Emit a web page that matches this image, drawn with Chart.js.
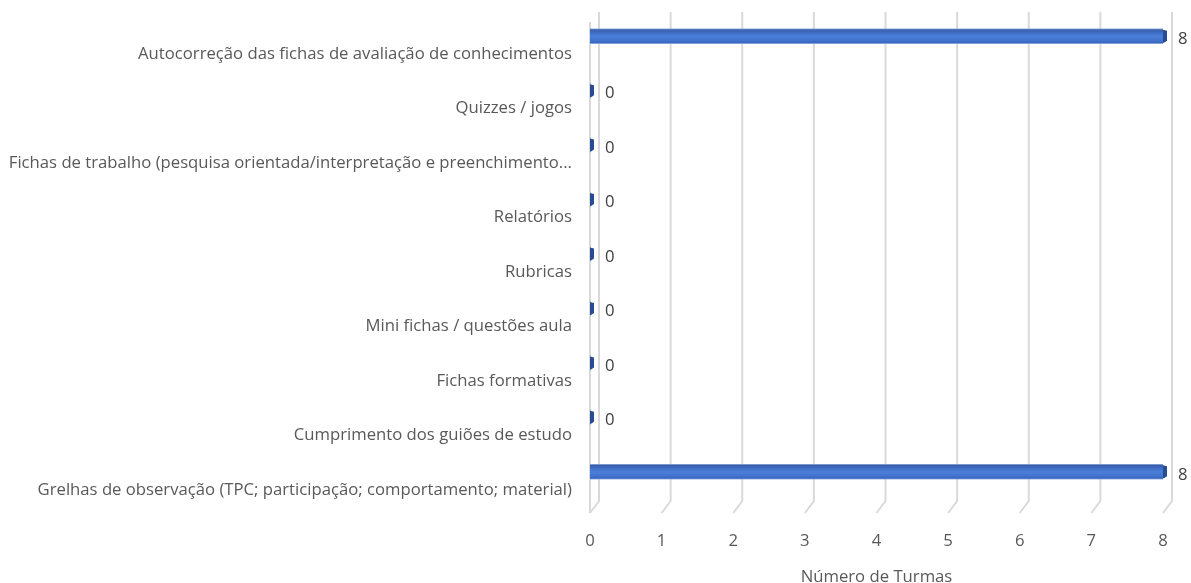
<!DOCTYPE html>
<html>
<head>
<meta charset="utf-8">
<script src="https://cdn.jsdelivr.net/npm/chart.js@4/dist/chart.umd.min.js"></script>
<style>
html,body{margin:0;padding:0;background:#fff;}
#wrap{width:1191px;height:583px;position:relative;}
</style>
</head>
<body>
<div id="wrap"><canvas id="c" width="1191" height="583"></canvas></div>
<script>
const categories = [
  "Autocorreção das fichas de avaliação de conhecimentos",
  "Quizzes / jogos",
  "Fichas de trabalho (pesquisa orientada/interpretação e preenchimento...",
  "Relatórios",
  "Rubricas",
  "Mini fichas / questões aula",
  "Fichas formativas",
  "Cumprimento dos guiões de estudo",
  "Grelhas de observação (TPC; participação; comportamento; material)"
];
const turmas = [8, 0, 0, 0, 0, 0, 0, 0, 8];
const xTicks = [0, 1, 2, 3, 4, 5, 6, 7, 8];
const axisTitle = "Número de Turmas";

const FONT = "'Open Sans', 'Noto Sans', sans-serif";
const FS = 16.7;
const TEXT = "#595959";
const BAR_H = 15;

function barGradient(c) {
  const chart = c.chart;
  const ys = chart.scales && chart.scales.y;
  if (!ys || c.dataIndex === undefined) return "#4472c4";
  const y = ys.getPixelForValue(c.dataIndex);
  if (!isFinite(y)) return "#4472c4";
  const g = chart.ctx.createLinearGradient(0, y - BAR_H / 2, 0, y + BAR_H / 2);
  g.addColorStop(0, "#8aa5dc");
  g.addColorStop(0.08, "#3a5fa6");
  g.addColorStop(0.2, "#3c68bd");
  g.addColorStop(0.5, "#4b7fd9");
  g.addColorStop(0.8, "#4272cb");
  g.addColorStop(0.93, "#3766be");
  g.addColorStop(1, "#9ab2e0");
  return g;
}

const floorPlugin = {
  id: "floor",
  beforeDatasetsDraw(chart) {
    const {ctx, chartArea, scales} = chart;
    const xs = scales.x;
    const dx = 9, dy = 12;
    ctx.save();
    ctx.strokeStyle = "#d9d9d9";
    ctx.lineWidth = 2;
    xTicks.forEach(v => {
      const xf = xs.getPixelForValue(v);
      const xb = xf + dx;
      ctx.beginPath();
      ctx.moveTo(xb, chartArea.top + 3);
      ctx.lineTo(xb, chartArea.bottom + 2);
      ctx.lineTo(xf, chartArea.bottom + 2 + dy);
      ctx.stroke();
    });
    const x0 = xs.getPixelForValue(0);
    ctx.beginPath();
    ctx.moveTo(x0, chartArea.top + 13);
    ctx.lineTo(x0, chartArea.bottom + 2 + dy);
    ctx.stroke();
    ctx.restore();
  },
  afterDatasetsDraw(chart) {
    const {ctx} = chart;
    const meta = chart.getDatasetMeta(0);
    ctx.save();
    meta.data.forEach((el, i) => {
      const h = el.height;
      const top = el.y - h / 2, bot = el.y + h / 2;
      ctx.fillStyle = "#284c91";
      ctx.beginPath();
      ctx.moveTo(el.x, top + 1);
      ctx.lineTo(el.x + 4, top + 2);
      ctx.lineTo(el.x + 4, bot - 3);
      ctx.lineTo(el.x + 1, bot - 1);
      ctx.lineTo(el.x, bot - 1);
      ctx.closePath();
      ctx.fill();
      ctx.fillStyle = "#404040";
      ctx.font = FS + "px " + FONT;
      ctx.textAlign = "left";
      ctx.textBaseline = "middle";
      ctx.fillText(String(turmas[i]), el.x + 15, el.y + 3);
    });
    ctx.restore();
  }
};

new Chart(document.getElementById("c"), {
  type: "bar",
  data: {
    labels: categories,
    datasets: [{
      data: turmas,
      backgroundColor: barGradient,
      borderWidth: 0,
      barThickness: BAR_H
    }]
  },
  options: {
    indexAxis: "y",
    responsive: false,
    animation: false,
    layout: { padding: { top: 9, right: 28, bottom: 0, left: 0 } },
    plugins: { legend: { display: false }, tooltip: { enabled: false } },
    scales: {
      x: {
        min: 0, max: 8,
        grid: { display: false, drawTicks: false },
        border: { display: false },
        ticks: {
          stepSize: 1,
          padding: 32,
          color: TEXT,
          font: { family: FONT, size: FS }
        },
        title: {
          display: true,
          text: axisTitle,
          color: TEXT,
          font: { family: FONT, size: FS, lineHeight: 1 },
          padding: { top: -3, bottom: -3 }
        },
        afterFit(scale) {
          scale.height = 84;
          scale.paddingLeft = 0;
          scale.paddingRight = 0;
        }
      },
      y: {
        grid: { display: false, drawTicks: false },
        border: { display: false },
        ticks: {
          autoSkip: false,
          padding: 18,
          labelOffset: 18,
          color: TEXT,
          font: { family: FONT, size: FS }
        },
        afterFit(scale) {
          scale.width = 590;
          scale.paddingTop = 0;
          scale.paddingBottom = 0;
        }
      }
    }
  },
  plugins: [floorPlugin]
});
</script>
</body>
</html>
